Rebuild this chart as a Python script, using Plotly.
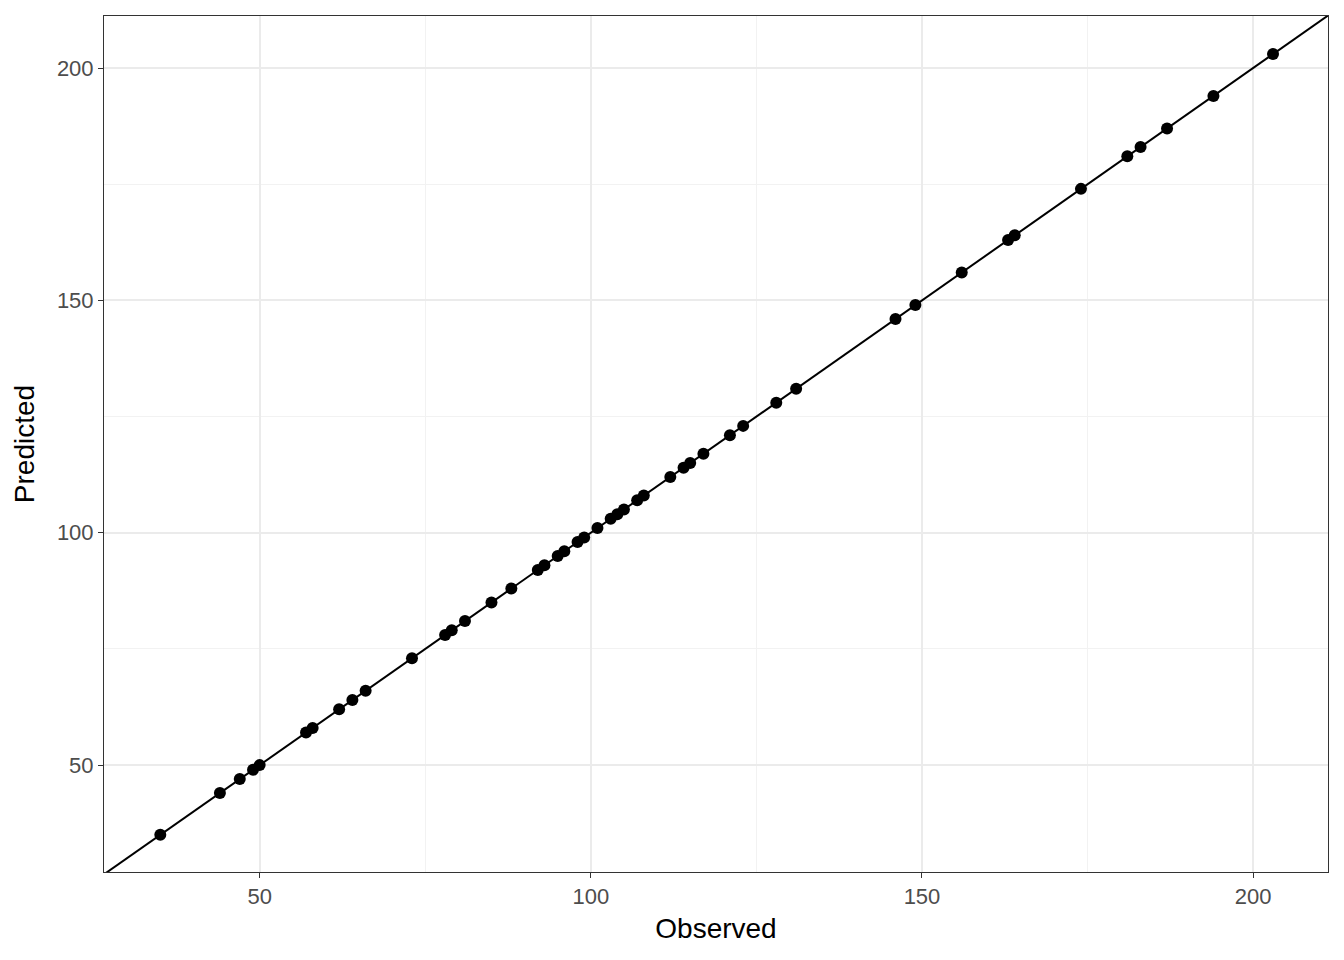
import plotly.graph_objects as go

observed = [35, 44, 47, 49, 50, 57, 58, 62, 64, 66, 73, 78, 79, 81, 85, 88, 92, 93, 95, 96,
            98, 99, 101, 103, 104, 105, 107, 108, 112, 114, 115, 117, 121, 123, 128, 131,
            146, 149, 156, 163, 164, 174, 181, 183, 187, 194, 203]
predicted = list(observed)

x_range = [26.5, 211.3]
y_range = [27.0, 211.2]
major_ticks = [50, 100, 150, 200]
minor_ticks = [75, 125, 175]

fig = go.Figure()

# identity line across the panel
lo = min(x_range[0], y_range[0])
hi = max(x_range[1], y_range[1])
fig.add_trace(go.Scatter(x=[lo, hi], y=[lo, hi], mode="lines",
                         line=dict(color="black", width=2), hoverinfo="skip", showlegend=False))

fig.add_trace(go.Scatter(x=observed, y=predicted, mode="markers",
                         marker=dict(color="black", size=12), showlegend=False))

axis_common = dict(
    showline=True, linecolor="#333333", linewidth=1, mirror=True,
    ticks="outside", tickcolor="#333333", ticklen=5, tickwidth=1,
    tickfont=dict(family="Liberation Sans, Arial", size=22, color="#4d4d4d"),
    showgrid=True, gridcolor="#ebebeb", gridwidth=1.5,
    zeroline=False, tickvals=major_ticks,
    minor=dict(tickvals=minor_ticks, showgrid=True, gridcolor="#f2f2f2", gridwidth=0.8, ticks=""),
)

title_font = dict(family="Liberation Sans, Arial", size=28, color="black")
fig.update_xaxes(range=x_range, title=dict(text="Observed", standoff=9, font=title_font), **axis_common)
fig.update_yaxes(range=y_range, title=dict(text="Predicted", standoff=14, font=title_font), **axis_common)

fig.update_layout(
    width=1344, height=960,
    margin=dict(l=96, r=24, t=8, b=96),
    plot_bgcolor="white", paper_bgcolor="white",
)

fig.write_html("out.html")
